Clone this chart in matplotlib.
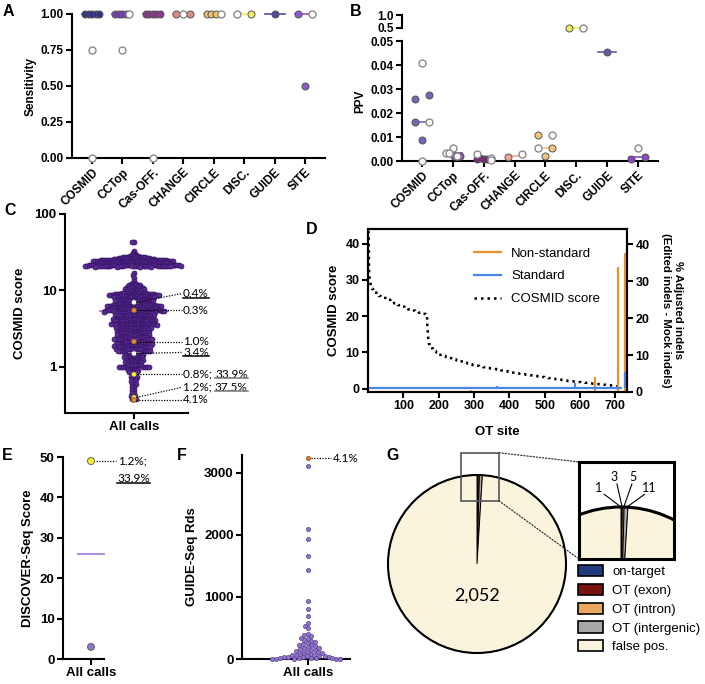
import numpy as np
import matplotlib
matplotlib.use('Agg')
import matplotlib.pyplot as plt
from matplotlib.patches import Rectangle, Circle, Patch, ConnectionPatch
from matplotlib.lines import Line2D

plt.rcParams['font.family'] = ['Liberation Sans', 'DejaVu Sans']
plt.rcParams['font.weight'] = 'bold'
plt.rcParams['axes.labelweight'] = 'bold'
ANN_FONT = ['Lato', 'DejaVu Sans']

# ------------------------------------------------------------------ data
tools = ['COSMID', 'CCTop', 'Cas-OFF.', 'CHANGE', 'CIRCLE', 'DISC.', 'GUIDE', 'SITE']
colA = ['#2E2F8A', '#7B3DBE', '#8B3A8F', '#D98D88', '#EFC26E', '#F3EF5E', '#4D4AA0', '#9158CC']
colB = ['#7665BA', '#8D4CC4', '#7A2079', '#F2A39E', '#F2C47C', '#F2EE55', '#6556AC', '#8A47C9']

# panel A: sensitivity (open = second pipeline variant)
sens_vals = [[1, 1, 1, 1, 1, 0.75, 0.0], [1, 1, 1, 1, 1, 0.75], [1, 1, 1, 1, 1, 0.0],
             [1, 1, 1], [1, 1, 1, 1], [1, 1], [1], [1, 1, 0.5]]
sens_open = [[0, 0, 0, 0, 0, 1, 1], [0, 0, 0, 0, 1, 1], [0, 0, 0, 0, 0, 1],
             [0, 1, 0], [0, 0, 0, 1], [1, 0], [0], [0, 1, 0]]

# panel B: PPV
ppv_vals = [[0.041, 0.026, 0.0275, 0.0162, 0.0162, 0.0087, 0.0],
            [0.0053, 0.0035, 0.0035, 0.0035, 0.0019, 0.0019, 0.0019],
            [0.0029, 0.0008, 0.0012, 0.001, 0.0008, 0.0013, 0.0004],
            [0.0015, 0.0028],
            [0.0108, 0.0108, 0.0055, 0.0055, 0.002],
            [0.5, 0.5],
            [0.0454],
            [0.0053, 0.0008, 0.0015]]
ppv_open = [[1, 0, 0, 0, 1, 0, 1],
            [1, 1, 1, 0, 0, 1, 0],
            [1, 0, 0, 0, 0, 1, 1],
            [0, 1],
            [0, 1, 1, 0, 0],
            [0, 1],
            [0],
            [1, 0, 0]]

# panel C / D: COSMID scores of all calls (score level, number of sites)
cosmid_levels = [43.5, 42.5, 33, 31, 30, 29.5, 29, 28.5, 28,
                 27.5, 27, 26.5, 26, 25.5, 25.2,
                 25.0, 24.5, 24.0, 23.5, 23.0, 22.6, 22.2, 21.8, 21.5, 21.2, 20.9, 20.6,
                 20.4, 17, 16, 14.5, 13.2, 12.5,
                 12.2, 11.8, 11.4, 11.0, 10.7, 10.4, 10.0, 9.7,
                 9.3, 9.0, 8.7, 8.4, 8.1, 7.8, 7.5, 7.2, 6.95,
                 6.7, 6.5, 6.3, 6.1, 5.9, 5.7, 5.55, 5.4, 5.25,
                 5.0, 4.8, 4.6, 4.4, 4.25, 4.1, 3.95, 3.8, 3.65,
                 3.5, 3.35, 3.2, 3.05, 2.9, 2.75, 2.6, 2.45, 2.3,
                 2.1, 2.0, 1.9, 1.8, 1.7, 1.6, 1.45, 1.35, 1.25, 1.15, 1.05,
                 1.0, 0.92, 0.85, 0.75, 0.7, 0.65, 0.6, 0.55, 0.5, 0.45, 0.42, 0.38]
cosmid_counts = [1, 1, 1, 1, 1, 1, 1, 1, 2,
                 4, 5, 5, 6, 6, 7,
                 10, 10, 10, 10, 10, 10, 10, 10, 10, 10, 10, 10,
                 4, 1, 1, 1, 1, 1,
                 3, 3, 3, 3, 4, 4, 4, 3,
                 10, 10, 10, 10, 10, 10, 10, 10, 4,
                 10, 10, 10, 10, 10, 10, 9, 10, 12,
                 10, 10, 10, 10, 10, 10, 10, 10, 13,
                 10, 10, 10, 10, 10, 10, 10, 10, 13,
                 10, 10, 10, 10, 10, 10, 10, 10, 10, 10, 9,
                 8, 6, 5, 4, 3, 3, 3, 2, 2, 2, 2, 2]
hl_scores = [7.0, 5.5, 2.15, 1.5, 0.8, 0.4, 0.37]
hl_colors = ['white', '#E8871E', '#E8871E', 'white', '#F6F22E', '#F6F22E', '#E8871E']
hl_text1 = ['0.4%', '0.3%', '1.0%', '3.4%', '0.8%; ', '1.2%; ', '4.1%']
hl_text2 = ['', '', '', '', '33.9%', '37.5%', '']
hl_under1 = [True, False, False, True, False, False, False]

# panel D: indels at OT sites
ns_sites = [291, 643, 708, 726]
ns_vals = [0.5, 4.1, 33.9, 37.5]
std_sites = [365, 587, 726]
std_vals = [1.6, 2.3, 5.3]
std_base = 1.0

# panel E
disc_scores = [49, 3]
disc_colors = ['#F6F22E', '#8F73C6']

# panel F
gs_reads = [3238, 3119, 2099, 1937, 1667, 1441, 934, 804, 691, 583, 540, 505,
            405, 385, 370, 345, 320, 300, 285, 270, 255, 240, 230, 220, 205, 190,
            180, 170, 160, 150, 140, 130, 120, 110, 100, 92, 85, 78, 70, 64, 58, 52,
            47, 42, 38, 34, 30, 26, 22, 18, 15, 12, 9, 7, 5, 3, 2, 1]

# panel G
pie_labels = ['on-target', 'OT (exon)', 'OT (intron)', 'OT (intergenic)', 'false pos.']
pie_counts = [1, 3, 5, 11, 2052]
pie_colors = ['#1F3B7D', '#7A1212', '#E9A85C', '#A8A8A8', '#FBF4DC']

# ------------------------------------------------------------------ helpers
W, H = 705, 684
fig = plt.figure(figsize=(W / 100, H / 100), dpi=100)


def add_ax(x0, y0, x1, y1):
    return fig.add_axes([x0 / W, 1 - y1 / H, (x1 - x0) / W, (y1 - y0) / H])


def style(ax, lw=1.5, fs=8.5):
    for s in ['top', 'right']:
        ax.spines[s].set_visible(False)
    for s in ['left', 'bottom']:
        ax.spines[s].set_linewidth(lw)
    ax.tick_params(width=lw, length=4, labelsize=fs, pad=2)


def row_offsets(ypx, thresh, span):
    rows = []
    for i in range(len(ypx)):
        for r in rows:
            if abs(ypx[r[0]] - ypx[i]) < thresh:
                r.append(i)
                break
        else:
            rows.append([i])
    offs = np.zeros(len(ypx))
    for r in rows:
        m = len(r)
        if m > 1:
            step = span / (m - 1)
            for k, i in enumerate(r):
                offs[i] = (k - (m - 1) / 2) * step
    return offs


def swarm(ypx, d, order):
    xs = np.zeros(len(ypx))
    px, py = [], []
    for i in order:
        y = ypx[i]
        x = 0.0
        if px:
            P = np.array(px); Q = np.array(py)
            m = np.abs(Q - y) < d
            nx, ny = P[m], Q[m]
            if len(nx):
                dx = np.sqrt(np.maximum(d * d - (ny - y) ** 2, 0))
                c = np.concatenate([[0.0], nx + dx, nx - dx])
                c = c[np.lexsort((c > 0, np.round(np.abs(c), 6)))]
                for cc in c:
                    if np.all((nx - cc) ** 2 + (ny - y) ** 2 >= d * d - 1e-6):
                        x = cc
                        break
        xs[i] = x
        px.append(x); py.append(y)
    return xs


def ypix(ax, vals):
    v = np.asarray(vals, float)
    return ax.transData.transform(np.c_[np.zeros(len(v)), v])[:, 1]


S7 = (7 * 0.72) ** 2
OPEN_EDGE = '#8a8a8a'

# ------------------------------------------------------------------ A
axA = add_ax(72, 14, 325, 158)
style(axA)
axA.set_xlim(-0.66, 7.66)
axA.set_ylim(0, 1)
ppuA = 253 / 8.32
for i in range(8):
    v = np.array(sens_vals[i], float)
    op = np.array(sens_open[i], bool)
    offs = row_offsets(ypix(axA, v), 2, 14) / ppuA
    med = np.median(v)
    axA.plot([i - 10 / ppuA, i + 10 / ppuA], [med, med], color=colA[i], lw=1.2, zorder=2, clip_on=False)
    axA.scatter(i + offs[~op], v[~op], s=S7, c=colA[i], edgecolors='#555555', linewidths=0.7, zorder=3, clip_on=False)
    axA.scatter(i + offs[op], v[op], s=S7, c='white', edgecolors=OPEN_EDGE, linewidths=1.0, zorder=3, clip_on=False)
axA.set_yticks([0, 0.25, 0.5, 0.75, 1.0])
axA.set_yticklabels(['0.00', '0.25', '0.50', '0.75', '1.00'])
axA.set_xticks(range(8))
axA.set_xticklabels(tools, rotation=45, ha='right', rotation_mode='anchor')
axA.set_ylabel('Sensitivity', fontsize=8.5, labelpad=3)

# ------------------------------------------------------------------ B
axB = add_ax(402, 41, 658, 161)
axBt = add_ax(402, 15, 658, 28)
style(axB)
style(axBt)
axBt.spines['bottom'].set_visible(False)
for ax in (axB, axBt):
    ax.set_xlim(-0.65, 7.65)
axB.set_ylim(0, 0.05)
axBt.set_ylim(0.5, 1.0)
ppuB = 256 / 8.3
for i in range(8):
    ax = axBt if i == 5 else axB
    v = np.array(ppv_vals[i], float)
    op = np.array(ppv_open[i], bool)
    offs = row_offsets(ypix(ax, v), 4.0, 14) / ppuB
    med = np.median(v)
    ax.plot([i - 9 / ppuB, i + 9 / ppuB], [med, med], color=colB[i], lw=1.2, zorder=2, clip_on=False)
    ax.scatter(i + offs[~op], v[~op], s=S7, c=colB[i], edgecolors='#555555', linewidths=0.7, zorder=3, clip_on=False)
    ax.scatter(i + offs[op], v[op], s=S7, c='white', edgecolors=OPEN_EDGE, linewidths=1.0, zorder=3, clip_on=False)
axB.set_yticks([0, 0.01, 0.02, 0.03, 0.04, 0.05])
axB.set_yticklabels(['0.00', '0.01', '0.02', '0.03', '0.04', '0.05'])
axB.set_xticks(range(8))
axB.set_xticklabels(tools, rotation=45, ha='right', rotation_mode='anchor')
axB.set_ylabel('PPV', fontsize=8.5, labelpad=3)
axBt.set_xticks([])
axBt.set_yticks([0.5, 1.0])
axBt.set_yticklabels(['0.5', '1.0'])

# ------------------------------------------------------------------ C
axC = add_ax(65, 214, 188, 413)
style(axC, fs=9.5)
axC.set_xlim(65 - 134, 188 - 134)
axC.set_yscale('log')
axC.set_ylim(0.25, 100)
axC.set_yticks([1, 10, 100])
axC.set_yticklabels(['1', '10', '100'])
axC.minorticks_off()
axC.set_xticks([0])
axC.set_xticklabels(['All calls'])
axC.set_ylabel('COSMID score', fontsize=9.5, labelpad=6)

base_scores = np.repeat(cosmid_levels, cosmid_counts)
all_scores = np.concatenate([base_scores, hl_scores])
nb = len(base_scores)
ypc = ypix(axC, all_scores)
order = list(range(nb, len(all_scores))) + list(np.argsort(-base_scores, kind='stable'))
xc = swarm(ypc, 2.6, order) * 0.72
medC = np.median(all_scores)
axC.plot([-34, 34], [medC, medC], color='#A98BDD', lw=1.4, zorder=2)
axC.scatter(xc[:nb], all_scores[:nb], s=13, c='#5A2B96', edgecolors='#33125F', linewidths=0.5, zorder=3, clip_on=False)
axC.scatter(xc[nb:], all_scores[nb:], s=13, c=hl_colors, edgecolors='#555555', linewidths=0.4, zorder=4, clip_on=False)

lab_y = [9.1, 5.5, 2.15, 1.55, 0.8, 0.54, 0.37]
under_texts = []
for k in range(len(hl_scores)):
    xp = xc[nb + k]
    axC.plot([xp + 2.5, 47.5], [hl_scores[k], lab_y[k]], color='k', ls=(0, (1, 1.2)), lw=0.9, zorder=5, clip_on=False)
    t1 = axC.text(49, lab_y[k], hl_text1[k], fontsize=8.5, family=ANN_FONT, weight='normal',
                  ha='left', va='center', clip_on=False)
    if hl_under1[k]:
        under_texts.append((t1, 'k'))
    if hl_text2[k]:
        t2 = axC.annotate(hl_text2[k], xy=(1, 0), xycoords=t1, ha='left', va='bottom', fontsize=8.5,
                          family=ANN_FONT, weight='normal', annotation_clip=False)
        under_texts.append((t2, '#777777'))

# ------------------------------------------------------------------ D
axD = add_ax(368, 229, 627, 392)
axD2 = axD.twinx()
for ax in (axD, axD2):
    for s in ax.spines.values():
        s.set_linewidth(1.5)
    ax.tick_params(width=1.5, length=4, labelsize=9, pad=2)
ranks = np.arange(1, len(all_scores) + 1)
axD.plot(ranks, np.sort(all_scores)[::-1], color='k', ls=(0, (1, 1.6)), lw=1.8)
axD.set_xlim(0, 733)
axD.set_ylim(-0.94, 44)
axD2.set_ylim(0, 44.1)
orange, blue = '#E8912D', '#4A86E8'
axD2.vlines(ns_sites, 0, ns_vals, color=orange, lw=1.6)
axD2.hlines(std_base, 1, len(all_scores), color=blue, lw=1.6)
axD2.vlines(std_sites, std_base, std_vals, color=blue, lw=1.6)
axD.set_xticks(range(100, 800, 100))
axD.set_yticks(range(0, 50, 10))
axD2.set_yticks(range(0, 50, 10))
axD.set_xlabel('OT site', fontsize=9.5, labelpad=10)
axD.set_ylabel('COSMID score', fontsize=9.5, labelpad=4)
axD2.set_ylabel('% Adjusted indels\n(Edited indels - Mock indels)', fontsize=8.2, rotation=270,
                labelpad=24, linespacing=1.2)
hD = [Line2D([], [], color=orange, lw=1.6), Line2D([], [], color=blue, lw=1.6),
      Line2D([], [], color='k', ls=(0, (1, 1.6)), lw=1.8)]
axD2.legend(hD, ['Non-standard', 'Standard', 'COSMID score'], loc='upper left',
            bbox_to_anchor=(0.39, 0.92), frameon=False, prop={'size': 9.5, 'weight': 'normal'},
            handlelength=2.0, labelspacing=0.8, handletextpad=0.8, borderaxespad=0)

# ------------------------------------------------------------------ E
axE = add_ax(63, 457, 104, 659)
style(axE, fs=9.5)
axE.set_xlim(-28, 13)
axE.set_ylim(0, 50)
axE.set_yticks(range(0, 60, 10))
axE.set_xticks([0])
axE.set_xticklabels(['All calls'])
axE.set_ylabel('DISCOVER-Seq Score', fontsize=9.5, labelpad=4)
medE = np.median(disc_scores)
axE.plot([-13, 13], [medE, medE], color='#A98BDD', lw=1.4, zorder=2, clip_on=False)
axE.scatter([0, 0], disc_scores, s=S7, c=disc_colors, edgecolors='#666666', linewidths=0.7, zorder=3, clip_on=False)
axE.plot([5, 25], [disc_scores[0], disc_scores[0]], color='k', ls=(0, (1, 1.2)), lw=0.9, clip_on=False)
axE.text(27, disc_scores[0], '1.2%;', fontsize=8.5, family=ANN_FONT, weight='normal', ha='left', va='center')
tE = axE.text(26, 44.6, '33.9%', fontsize=8.5, family=ANN_FONT, weight='normal', ha='left', va='center')
under_texts.append((tE, 'k'))

# ------------------------------------------------------------------ F
axF = add_ax(242, 455, 350, 659)
style(axF, fs=9.5)
axF.set_xlim(-66, 42)
axF.set_ylim(0, 3290)
axF.set_yticks([0, 1000, 2000, 3000])
axF.set_xticks([0])
axF.set_xticklabels(['All calls'])
axF.set_ylabel('GUIDE-Seq Rds', fontsize=9.5, labelpad=4)
gr = np.array(gs_reads, float)
ypf = ypix(axF, gr)
xf = swarm(ypf, 4.0, list(np.argsort(-gr, kind='stable')))
top = int(np.argmax(gr))
mask = np.arange(len(gr)) != top
axF.scatter(xf[mask], gr[mask], s=9, c='#8E76C4', edgecolors='#5B3E9A', linewidths=0.5, zorder=3, clip_on=False)
axF.scatter([xf[top]], [gr[top]], s=9, c='#E07E1E', edgecolors='#8A4A10', linewidths=0.5, zorder=4, clip_on=False)
axF.plot([xf[top] + 3, 23], [gr[top], gr[top]], color='k', ls=(0, (1, 1.2)), lw=0.9, clip_on=False)
axF.text(25, gr[top], '4.1%', fontsize=8.5, family=ANN_FONT, weight='normal', ha='left', va='center', clip_on=False)

# ------------------------------------------------------------------ G
axG = add_ax(377, 464, 577, 664)
axIn = add_ax(579, 462, 674, 559)
for ax, lwc, clip in ((axG, 1.5, False), (axIn, 2.2, True)):
    wedges, _ = ax.pie(pie_counts, colors=pie_colors, startangle=90, counterclock=False, radius=1,
                       wedgeprops=dict(edgecolor='k', linewidth=0.7))
    for w in wedges:
        w.set_clip_on(clip)
    ax.add_patch(Circle((0, 0), 1, fill=False, edgecolor='k', lw=lwc, zorder=5, clip_on=clip))
axG.set_xlim(-1.1236, 1.1236)
axG.set_ylim(-1.1236, 1.1236)
axG.set_aspect('equal')
axG.axis('off')
axG.text(0, -0.35, '2,052', fontsize=13, family=ANN_FONT, weight='normal', ha='center', va='center')
axG.add_patch(Rectangle((-0.18, 0.71), 0.427, 0.54, fill=False, edgecolor='#555555', lw=1.2,
                        clip_on=False, zorder=6))
axIn.set_xlim(-0.365, 0.461)
axIn.set_ylim(0.548, 1.391)
axIn.set_aspect('auto')
axIn.set_xticks([]); axIn.set_yticks([])
axIn.set_frame_on(True)
for s in axIn.spines.values():
    s.set_visible(True)
    s.set_linewidth(2.2)
    s.set_zorder(10)
lab_pos = [(-0.191, 1.165), (-0.061, 1.261), (0.105, 1.261), (0.244, 1.165)]
lab_end = [(0.0, 1.0), (0.009, 1.005), (0.026, 1.005), (0.052, 1.0)]
lab_start = [(-0.145, 1.11), (-0.035, 1.2), (0.095, 1.2), (0.205, 1.11)]
for k in range(4):
    axIn.text(*lab_pos[k], str(pie_counts[k]), fontsize=9, family=ANN_FONT, weight='normal',
              ha='center', va='center')
    axIn.plot([lab_start[k][0], lab_end[k][0]], [lab_start[k][1], lab_end[k][1]], color='k', lw=0.8)
for (ya, yb) in ((1.25, 1), (0.71, 0)):
    fig.add_artist(ConnectionPatch(xyA=(0.247, ya), coordsA=axG.transData, xyB=(0, yb),
                                   coordsB=axIn.transAxes, color='#333333', lw=0.9, ls=(0, (1, 1.5))))
fig.legend(handles=[Patch(facecolor=c, edgecolor='k', lw=1.2) for c in pie_colors], labels=pie_labels,
           loc='upper left', bbox_to_anchor=(578 / W, 1 - 565 / H), frameon=False,
           prop={'size': 9.5, 'weight': 'normal'}, handlelength=1.9, handleheight=0.95,
           handletextpad=0.7, labelspacing=0.42, borderaxespad=0, borderpad=0)

# ------------------------------------------------------------------ panel letters
for lab, (x, y) in zip('ABCDEFG', [(8, 11), (356, 11), (10, 210), (312, 229), (7, 456), (182, 456), (393, 456)]):
    fig.text(x / W, 1 - y / H, lab, fontsize=11.5, weight='bold', ha='center', va='center')

# ------------------------------------------------------------------ underlines
fig.canvas.draw()
r = fig.canvas.get_renderer()
for t, col in under_texts:
    bb = t.get_window_extent(r)
    yy = bb.y0 + 1.5
    fig.add_artist(Line2D([bb.x0 / W, bb.x1 / W], [yy / H, yy / H], transform=fig.transFigure,
                          color=col, lw=1.1))

fig.savefig('out.png', dpi=100)
